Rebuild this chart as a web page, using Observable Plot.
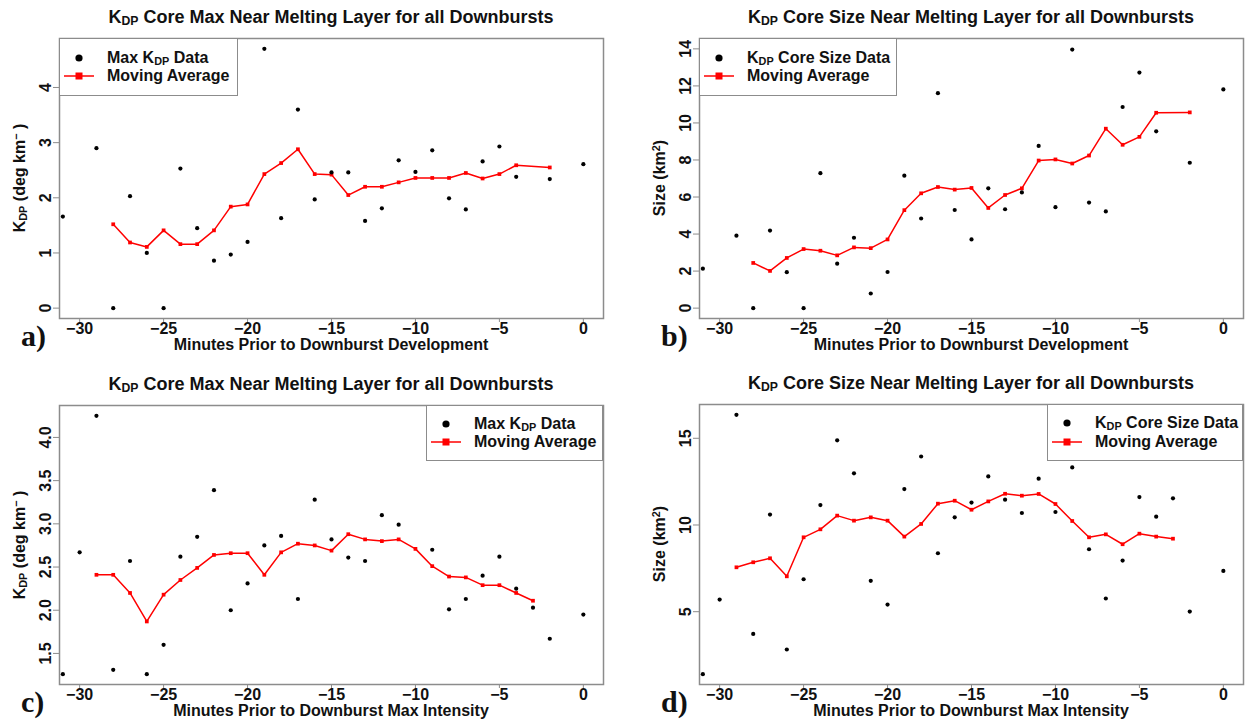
<!DOCTYPE html>
<html>
<head>
<meta charset="utf-8">
<script src="https://cdn.jsdelivr.net/npm/d3@7"></script>
<script src="https://cdn.jsdelivr.net/npm/@observablehq/plot@0.6"></script>
<style>
  html, body { margin: 0; padding: 0; background: #fff; }
  body { width: 1250px; height: 719px; position: relative; overflow: hidden;
         font-family: "Liberation Sans", Arial, sans-serif; color: #111; }
  .abs { position: absolute; white-space: nowrap; }
  .ctr { transform: translate(-50%, -50%); }
  .title { font-weight: bold; font-size: 18px; }
  .xlab { font-weight: bold; font-size: 16px; }
  .ylab { font-weight: bold; font-size: 16px; transform: translate(-50%, -50%) rotate(-90deg); }
  .letter { font-family: "Liberation Serif", "DejaVu Serif", serif; font-weight: bold; font-size: 30px; transform: translateY(-50%); }
  .legend { position: absolute; border: 1.5px solid #8c8c8c; background: #fff; box-sizing: border-box; }
  .lrow { position: absolute; font-weight: bold; font-size: 16px; transform: translateY(-50%); white-space: nowrap; }
  .lsym { position: absolute; transform: translate(-50%, -50%); }
  sub { font-size: 68%; vertical-align: -0.2em; line-height: 0; }
  sup { font-size: 68%; vertical-align: 0.45em; line-height: 0; }
  svg.plot { position: absolute; overflow: visible; }
</style>
</head>
<body>
<script>
// ---------- DATA ----------
// x axis (minutes)
const xLimits = [-30, 0];
const xTicks = [-30, -25, -20, -15, -10, -5, 0];

// Panel a/b: relative to downburst development
const devTimes = [-31,-29,-28,-27,-26,-25,-24,-23,-22,-21,-20,-19,-18,-17,-16,-15,-14,-13,-12,-11,-10,-9,-8,-7,-6,-5,-4,-2,0];
const kdpMaxDev = [1.66,2.90,0,2.03,1.00,0,2.53,1.45,0.86,0.97,1.20,4.70,1.63,3.60,1.97,2.46,2.46,1.58,1.81,2.68,2.47,2.86,1.99,1.79,2.66,2.93,2.38,2.34,2.61];
const coreSizeDev = [2.13,3.91,0,4.19,1.94,0,7.29,2.40,3.80,0.79,1.95,7.15,4.84,11.61,5.30,3.71,6.47,5.34,6.25,8.76,5.45,13.96,5.70,5.22,10.86,12.72,9.55,7.85,11.81];
const maDevTimes = [-28,-27,-26,-25,-24,-23,-22,-21,-20,-19,-18,-17,-16,-15,-14,-13,-12,-11,-10,-9,-8,-7,-6,-5,-4,-2];
const kdpMaxDevMA = [1.52,1.19,1.11,1.41,1.16,1.16,1.41,1.84,1.88,2.43,2.63,2.88,2.43,2.42,2.05,2.20,2.20,2.28,2.36,2.36,2.36,2.45,2.35,2.43,2.59,2.55];
const coreSizeDevMA = [2.44,2.01,2.71,3.19,3.10,2.85,3.28,3.24,3.71,5.29,6.20,6.54,6.40,6.49,5.41,6.11,6.47,7.97,8.03,7.81,8.24,9.69,8.82,9.25,10.55,10.57];

// Panel c/d: relative to downburst max intensity
const kdpIntTimes = [-31,-30,-29,-28,-27,-26,-25,-24,-23,-22,-21,-20,-19,-18,-17,-16,-15,-14,-13,-12,-11,-9,-8,-7,-6,-5,-4,-3,-2,0];
const kdpMaxInt = [1.26,2.67,4.25,1.31,2.57,1.26,1.60,2.62,2.85,3.39,2.00,2.31,2.75,2.86,2.13,3.28,2.82,2.61,2.57,3.10,2.99,2.70,2.01,2.13,2.40,2.62,2.25,2.03,1.67,1.95];
const sizeIntTimes = [-31,-30,-29,-28,-27,-26,-25,-24,-23,-22,-21,-20,-19,-18,-17,-16,-15,-14,-13,-12,-11,-10,-9,-8,-7,-6,-5,-4,-3,-2,0];
const coreSizeInt = [1.40,5.70,16.35,3.72,10.60,2.82,6.87,11.15,14.88,12.98,6.78,5.41,12.07,13.95,8.37,10.44,11.29,12.80,11.46,10.69,12.67,10.75,13.32,8.60,5.76,7.95,11.61,10.48,11.54,5.01,7.35];
const maIntTimes = [-29,-28,-27,-26,-25,-24,-23,-22,-21,-20,-19,-18,-17,-16,-15,-14,-13,-12,-11,-10,-9,-8,-7,-6,-5,-4,-3];
const kdpMaxIntMA = [2.41,2.41,2.20,1.87,2.18,2.35,2.49,2.64,2.66,2.66,2.41,2.67,2.77,2.75,2.69,2.88,2.82,2.80,2.82,2.71,2.51,2.39,2.38,2.29,2.29,2.20,2.11];
const coreSizeIntMA = [7.56,7.85,8.08,7.04,9.29,9.75,10.54,10.25,10.44,10.25,9.33,10.06,11.23,11.40,10.88,11.36,11.80,11.69,11.79,11.21,10.23,9.29,9.46,8.89,9.50,9.33,9.21];

// y ticks
const yTicksA = [0, 1, 2, 3, 4];
const yTicksB = [0, 2, 4, 6, 8, 10, 12, 14];
const yTicksC = [1.5, 2.0, 2.5, 3.0, 3.5, 4.0];
const yTicksD = [5, 10, 15];

// text
const titleMax = 'K<sub>DP</sub> Core Max Near Melting Layer for all Downbursts';
const titleSize = 'K<sub>DP</sub> Core Size Near Melting Layer for all Downbursts';
const xLabDev = 'Minutes Prior to Downburst Development';
const xLabInt = 'Minutes Prior to Downburst Max Intensity';
const yLabKdp = 'K<sub>DP</sub> (deg km<sup>&#8722;</sup> )';
const yLabSize = 'Size (km<sup>2</sup>)';
const legMax = 'Max K<sub>DP</sub> Data';
const legSize = 'K<sub>DP</sub> Core Size Data';
const legMA = 'Moving Average';

// ---------- helpers ----------
const expand = ([a, b]) => { const d = (b - a) * 0.04; return [a - d, b + d]; };

function addDiv(cls, html, left, top) {
  const el = document.createElement("div");
  el.className = "abs " + cls;
  el.innerHTML = html;
  el.style.left = left + "px";
  el.style.top = top + "px";
  document.body.appendChild(el);
  return el;
}

function addLegend(box, dotLabel) {
  const lg = document.createElement("div");
  lg.className = "legend";
  Object.assign(lg.style, { left: box.x + "px", top: box.y + "px", width: box.w + "px", height: box.h + "px" });
  const rows = [
    { sym: '<svg width="30" height="10"><circle cx="15" cy="5" r="3.6" fill="#000"/></svg>', label: dotLabel, y: box.r1 },
    { sym: '<svg width="30" height="10"><line x1="0" x2="30" y1="5" y2="5" stroke="#ff0000" stroke-width="1.5"/><rect x="11.5" y="1.5" width="7" height="7" fill="#ff0000"/></svg>', label: legMA, y: box.r2 }
  ];
  for (const r of rows) {
    const s = document.createElement("div");
    s.className = "lsym";
    s.innerHTML = r.sym;
    Object.assign(s.style, { left: (box.sx - box.x) + "px", top: (r.y - box.y) + "px", lineHeight: 0 });
    lg.appendChild(s);
    const t = document.createElement("div");
    t.className = "lrow";
    t.innerHTML = r.label;
    Object.assign(t.style, { left: (box.tx - box.x) + "px", top: (r.y - box.y) + "px" });
    lg.appendChild(t);
  }
  document.body.appendChild(lg);
}

function panel(cfg) {
  const dots = cfg.times.map((t, i) => ({ t, v: cfg.values[i] }));
  const ma = cfg.maTimes.map((t, i) => ({ t, v: cfg.ma[i] }));
  const f = cfg.frame; // frame box in page pixels
  const W = cfg.svg.w, H = cfg.svg.h;
  const chart = Plot.plot({
    width: W,
    height: H,
    marginLeft: f.x0 - cfg.svg.x,
    marginRight: cfg.svg.x + W - f.x1,
    marginTop: f.y0 - cfg.svg.y,
    marginBottom: cfg.svg.y + H - f.y1,
    x: { domain: expand(xLimits) },
    y: { domain: expand(cfg.ylim) },
    style: { fontFamily: "Liberation Sans, Arial, sans-serif", fontSize: "16px", fontWeight: "bold", background: "transparent", color: "#111" },
    marks: [
      Plot.axisX({ ticks: xTicks, tickSize: 4, tickPadding: 0, stroke: "#8c8c8c", fill: "#111", label: null }),
      Plot.axisY({ ticks: cfg.yTicks, tickSize: 6, tickPadding: 3, tickRotate: -90, stroke: "#8c8c8c", fill: "#111", tickFormat: cfg.fmt, label: null }),
      Plot.frame({ stroke: "#8c8c8c", strokeWidth: 1.5 }),
      Plot.line(ma, { x: "t", y: "v", stroke: "#ff0000", strokeWidth: 1.5 }),
      Plot.dot(ma, { x: "t", y: "v", symbol: "square", fill: "#ff0000", r: 2.1 }),
      Plot.dot(dots, { x: "t", y: "v", fill: "#000", r: 2.1 })
    ]
  });
  chart.classList.add("plot");
  chart.style.left = cfg.svg.x + "px";
  chart.style.top = cfg.svg.y + "px";
  document.body.appendChild(chart);

  const cx = (f.x0 + f.x1) / 2, cy = (f.y0 + f.y1) / 2;
  addDiv("title ctr", cfg.title, cx, f.y0 - 21);
  addDiv("xlab ctr", cfg.xlab, cx, f.y1 + 27);
  addDiv("ylab", cfg.ylab, f.x0 - 39, cy);
  addDiv("letter", cfg.letter, f.x0 - 38, f.y1 + 18);
  addLegend(cfg.legend, cfg.legLabel);
}

// ---------- panels ----------
panel({
  svg: { x: 0, y: 0, w: 625, h: 360 },
  frame: { x0: 59, x1: 603, y0: 38, y1: 318 },
  times: devTimes, values: kdpMaxDev, maTimes: maDevTimes, ma: kdpMaxDevMA,
  ylim: d3.extent(kdpMaxDev), yTicks: yTicksA, fmt: d3.format("d"),
  title: titleMax, xlab: xLabDev, ylab: yLabKdp, letter: "a)",
  legend: { x: 59, y: 38, w: 179, h: 58, sx: 78, tx: 106, r1: 57, r2: 75 }, legLabel: legMax
});
panel({
  svg: { x: 630, y: 0, w: 620, h: 360 },
  frame: { x0: 699, x1: 1243, y0: 38, y1: 318 },
  times: devTimes, values: coreSizeDev, maTimes: maDevTimes, ma: coreSizeDevMA,
  ylim: [0, 14], yTicks: yTicksB, fmt: d3.format("d"),
  title: titleSize, xlab: xLabDev, ylab: yLabSize, letter: "b)",
  legend: { x: 699, y: 38, w: 198, h: 58, sx: 718, tx: 746, r1: 57, r2: 75 }, legLabel: legSize
});
panel({
  svg: { x: 0, y: 365, w: 625, h: 354 },
  frame: { x0: 59, x1: 603, y0: 405, y1: 684 },
  times: kdpIntTimes, values: kdpMaxInt, maTimes: maIntTimes, ma: kdpMaxIntMA,
  ylim: d3.extent(kdpMaxInt), yTicks: yTicksC, fmt: d3.format(".1f"),
  title: titleMax, xlab: xLabInt, ylab: yLabKdp, letter: "c)",
  legend: { x: 426, y: 405, w: 177, h: 56, sx: 445, tx: 473, r1: 423, r2: 441 }, legLabel: legMax
});
panel({
  svg: { x: 630, y: 365, w: 620, h: 354 },
  frame: { x0: 699, x1: 1243, y0: 404, y1: 684 },
  times: sizeIntTimes, values: coreSizeInt, maTimes: maIntTimes, ma: coreSizeIntMA,
  ylim: d3.extent(coreSizeInt), yTicks: yTicksD, fmt: d3.format("d"),
  title: titleSize, xlab: xLabInt, ylab: yLabSize, letter: "d)",
  legend: { x: 1047, y: 404, w: 196, h: 57, sx: 1066, tx: 1094, r1: 422, r2: 441 }, legLabel: legSize
});
</script>
</body>
</html>
